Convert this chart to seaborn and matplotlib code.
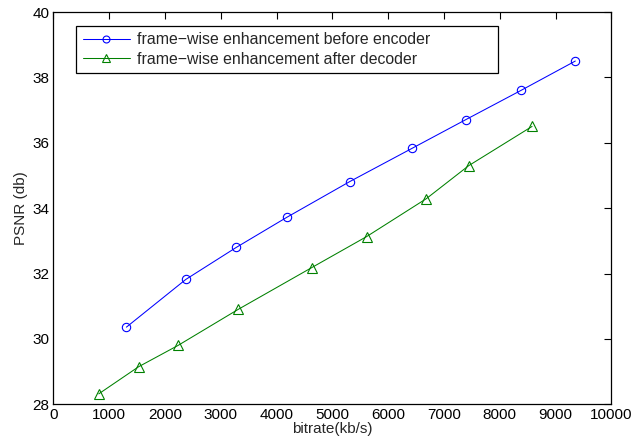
import pandas as pd
import matplotlib
matplotlib.use('Agg')
import matplotlib.pyplot as plt
import seaborn as sns

# data
bitrate_before = [1310, 2375, 3280, 4185, 5310, 6430, 7395, 8380, 9355]
psnr_before = [30.36, 31.82, 32.80, 33.72, 34.81, 35.83, 36.71, 37.60, 38.50]
bitrate_after = [815, 1530, 2235, 3310, 4630, 5615, 6685, 7445, 8580]
psnr_after = [28.32, 29.15, 29.80, 30.90, 32.18, 33.13, 34.29, 35.30, 36.50]
labels = ['frame\u2212wise enhancement before encoder',
          'frame\u2212wise enhancement after decoder']
colors = ['#0000ff', '#008000']

d = pd.concat([
    pd.DataFrame({'bitrate': bitrate_before, 'psnr': psnr_before, 'method': labels[0]}),
    pd.DataFrame({'bitrate': bitrate_after, 'psnr': psnr_after, 'method': labels[1]}),
])

sns.set_style('white')
plt.rcParams['font.family'] = ['Liberation Sans', 'DejaVu Sans']

fig = plt.figure(figsize=(6.36, 4.45), dpi=100)
ax = fig.add_axes([53.3/636, 1 - 404.3/445, 558/636, 392.3/445])

sns.lineplot(data=d, x='bitrate', y='psnr', hue='method', style='method',
             palette=colors, markers=['o', '^'], dashes=False,
             linewidth=0.75, markersize=6, ax=ax, sort=False)
# seaborn fills the markers, make them hollow like the original
for ln, c, ms in zip(ax.get_lines(), colors, [6, 7]):
    ln.set_markeredgecolor(c)
    ln.set_markerfacecolor('none')
    ln.set_markeredgewidth(0.8)
    ln.set_markersize(ms)

ax.set_xlim(0, 10000)
ax.set_ylim(28, 40)
ax.set_xticks(range(0, 10001, 1000))
ax.set_yticks(range(28, 41, 2))
ax.tick_params(direction='in', length=5, width=0.8, top=True, right=True,
               labelsize=11, colors='black', pad=3)
for s in ax.spines.values():
    s.set_color('black')
    s.set_linewidth(0.9)
ax.set_xlabel('bitrate(kb/s)', fontsize=11, labelpad=0)
ax.set_ylabel('PSNR (db)', fontsize=11, labelpad=3)

h, l = ax.get_legend_handles_labels()
for hh, c, ms in zip(h, colors, [5, 6]):
    hh.set_markeredgecolor(c)
    hh.set_markerfacecolor('none')
    hh.set_markeredgewidth(0.8)
    hh.set_markersize(ms)
leg = ax.legend(h, l, loc='upper left', bbox_to_anchor=(0.0407, 0, 0.756, 0.965),
                mode='expand', borderaxespad=0,
                fontsize=11.4, frameon=True, fancybox=False, edgecolor='black',
                handlelength=3.0, borderpad=0.42, labelspacing=0.28,
                handletextpad=0.45)
leg.get_frame().set_linewidth(0.9)
leg.get_frame().set_alpha(1)

fig.savefig('out.png', dpi=100)
